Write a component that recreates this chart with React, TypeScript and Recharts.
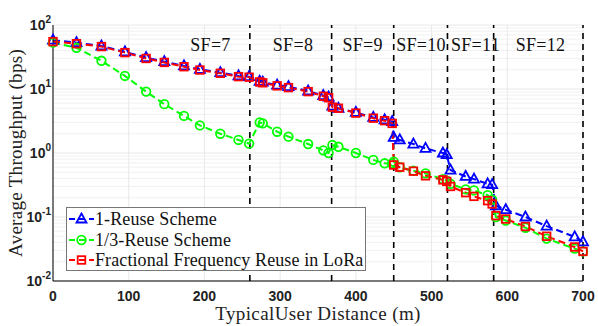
import React from "react";
import {
  LineChart,
  Line,
  XAxis,
  YAxis,
  CartesianGrid,
  ReferenceLine,
  ReferenceDot,
  Legend,
} from "recharts";

// distance (m) of every sample, shared by the three curves
const distance = [
  0, 31, 64, 95, 123, 147, 173, 194, 221, 245, 259, 273, 277, 296, 311, 337, 357, 364,
  369, 377, 400, 423, 438, 448, 450, 458, 476, 492, 515, 520, 525, 545, 556, 574, 580,
  585, 598, 624, 652, 689, 700,
];
const oneReuse = [
  58, 53, 47, 38, 31, 26.7, 22.9, 20.3, 18, 16, 15.6, 13.2, 12.8, 11.5, 10.9, 9.3, 7.9, 7.5,
  5.4, 5.0, 4.3, 3.6, 3.3, 3.1, 1.75, 1.6, 1.38, 1.18, 1.0, 0.94, 0.54, 0.43, 0.39, 0.33, 0.32,
  0.15, 0.13, 0.1, 0.072, 0.049, 0.041,
];
const thirdReuse = [
  53, 44, 27.6, 16, 9.1, 5.8, 3.8, 2.7, 2.0, 1.6, 1.4, 3.0, 2.9, 2.15, 1.8, 1.38, 1.1, 1.0,
  1.33, 1.25, 1.0, 0.78, 0.69, 0.68, 0.73, 0.6, 0.53, 0.48, 0.39, 0.37, 0.33, 0.27, 0.26, 0.22,
  0.186, 0.1, 0.088, 0.068, 0.046, 0.032, 0.029,
];
const ffrLora = [
  55, 51, 46, 37, 30, 26, 22.3, 19.8, 17.6, 15.6, 15.3, 12.9, 12.5, 11.2, 10.5, 9.1, 7.7, 7.3,
  5.2, 5.0, 4.2, 3.5, 3.2, 2.9, 0.65, 0.6, 0.52, 0.44, 0.38, 0.36, 0.3, 0.24, 0.21, 0.18, 0.16,
  0.105, 0.093, 0.071, 0.05, 0.034, 0.029,
];

const seriesNames = ["1-Reuse Scheme", "1/3-Reuse Scheme", "Fractional Frequency Reuse in LoRa"];
const seriesColors = ["#0000ff", "#00ff00", "#ff0000"];

const xTicks = [0, 100, 200, 300, 400, 500, 600, 700];
const yTicks = [0.01, 0.1, 1, 10, 100];
const yTickExponents = ["-2", "-1", "0", "1", "2"];

const sfBoundaries = [260, 368, 450, 521, 582, 700];
const sfLabels = ["SF=7", "SF=8", "SF=9", "SF=10", "SF=11", "SF=12"];
const sfLabelX = [208, 317, 409, 486, 558, 644];
const sfLabelY = 50;

const minorY: number[] = [];
for (let e = -2; e < 2; e++) {
  for (let k = 2; k <= 9; k++) minorY.push(k * Math.pow(10, e));
}

const data = distance.map((d, i) => ({
  d,
  one: oneReuse[i],
  third: thirdReuse[i],
  ffr: ffrLora[i],
}));

const serif = "'Liberation Serif', 'DejaVu Serif', serif";
const sans = "'Liberation Sans', Arial, sans-serif";

function Triangle({ cx, cy, color }: any) {
  if (cx == null || cy == null) return null;
  return (
    <polygon
      points={`${cx},${cy - 5.5} ${cx - 5},${cy + 3.5} ${cx + 5},${cy + 3.5}`}
      fill="none"
      stroke={color}
      strokeWidth={1.8}
    />
  );
}

function Circle({ cx, cy, color }: any) {
  if (cx == null || cy == null) return null;
  return <circle cx={cx} cy={cy} r={4.3} fill="none" stroke={color} strokeWidth={1.8} />;
}

function Square({ cx, cy, color }: any) {
  if (cx == null || cy == null) return null;
  return (
    <rect x={cx - 3.8} y={cy - 3.8} width={7.6} height={7.6} fill="none" stroke={color} strokeWidth={1.8} />
  );
}

const markers = [Triangle, Circle, Square];

function XTick({ x, y, payload }: any) {
  return (
    <text x={x} y={y + 12} textAnchor="middle" fontFamily={sans} fontWeight="bold" fontSize={14} fill="#222">
      {payload.value}
    </text>
  );
}

function YTick({ x, y, payload }: any) {
  const i = yTicks.indexOf(payload.value);
  return (
    <text x={x + 6} y={y + 5} textAnchor="end" fontFamily={sans} fontWeight="bold" fill="#222">
      <tspan fontSize={14}>10</tspan>
      <tspan fontSize={10} dy={-7}>
        {yTickExponents[i]}
      </tspan>
    </text>
  );
}

function LegendBox() {
  return (
    <div
      style={{
        border: "1px solid #777",
        background: "#fff",
        width: 300,
        height: 64,
        padding: "1px 0 0 0",
        boxSizing: "border-box",
        fontFamily: serif,
        fontSize: 18,
        letterSpacing: 0.1,
        whiteSpace: "nowrap",
        color: "#111",
      }}
    >
      {seriesNames.map((name, i) => {
        const M = markers[i];
        return (
          <div key={name} style={{ display: "flex", alignItems: "center", height: 20.5 }}>
            <svg width={27} height={14} style={{ marginLeft: 1, marginRight: 0, flex: "none" }}>
              <line x1={1} y1={7} x2={26} y2={7} stroke={seriesColors[i]} strokeWidth={2} strokeDasharray="6 4" />
              <M cx={13.5} cy={7} color={seriesColors[i]} />
            </svg>
            <span style={{ lineHeight: "20px" }}>{name}</span>
          </div>
        );
      })}
    </div>
  );
}

export default function App() {
  const keys = ["one", "third", "ffr"];
  return (
    <div style={{ position: "absolute", left: 0, top: 0, background: "#fff" }}>
      <LineChart width={598} height={326} data={data} margin={{ top: 25, right: 15, bottom: 0, left: 0 }}>
        <CartesianGrid stroke="#e2e2e2" strokeWidth={0.8} />
        {minorY.map((v) => (
          <ReferenceLine key={v} y={v} stroke="#eeeeee" strokeWidth={0.8} />
        ))}
        <XAxis
          dataKey="d"
          type="number"
          domain={[0, 700]}
          ticks={xTicks}
          tick={<XTick />}
          tickLine={false}
          axisLine={{ stroke: "#000" }}
          height={45}
          label={{
            value: "TypicalUser Distance (m)",
            position: "insideBottom",
            offset: 6,
            style: { fontFamily: serif, fontSize: 19, letterSpacing: 0.4, fill: "#222" },
          }}
        />
        <XAxis xAxisId="top" orientation="top" type="number" domain={[0, 700]} height={0} tick={false} tickLine={false} axisLine={{ stroke: "#000" }} />
        <YAxis
          scale="log"
          type="number"
          domain={[0.01, 100]}
          allowDataOverflow
          ticks={yTicks}
          tick={<YTick />}
          tickLine={false}
          axisLine={{ stroke: "#000" }}
          width={53}
          label={{
            value: "Average Throughput (bps)",
            angle: -90,
            position: "insideLeft",
            offset: 15,
            style: { fontFamily: serif, fontSize: 19, letterSpacing: 0.3, fill: "#222", textAnchor: "middle" },
          }}
        />
        <YAxis yAxisId="right" orientation="right" width={0} tick={false} tickLine={false} axisLine={{ stroke: "#000" }} />
        {sfBoundaries.map((b) => (
          <ReferenceLine key={b} x={b} stroke="#000" strokeWidth={1.6} strokeDasharray="6 5" />
        ))}
        {sfLabels.map((s, i) => (
          <ReferenceDot
            key={s}
            x={sfLabelX[i]}
            y={sfLabelY}
            r={0}
            fill="none"
            stroke="none"
            label={{ value: s, position: "center", style: { fontFamily: serif, fontSize: 18, letterSpacing: 0.3, fill: "#111" } }}
          />
        ))}
        {keys.map((k, i) => {
          const M = markers[i];
          return (
            <Line
              key={k}
              dataKey={k}
              name={seriesNames[i]}
              stroke={seriesColors[i]}
              strokeWidth={2}
              strokeDasharray="7 4"
              isAnimationActive={false}
              dot={(p: any) => <M key={p.index} cx={p.cx} cy={p.cy} color={seriesColors[i]} />}
              activeDot={false}
            />
          );
        })}
        <Legend
          layout="horizontal"
          verticalAlign="middle"
          align="center"
          wrapperStyle={{ left: 66, top: 207, width: 300 }}
          content={() => <LegendBox />}
        />
      </LineChart>
    </div>
  );
}
